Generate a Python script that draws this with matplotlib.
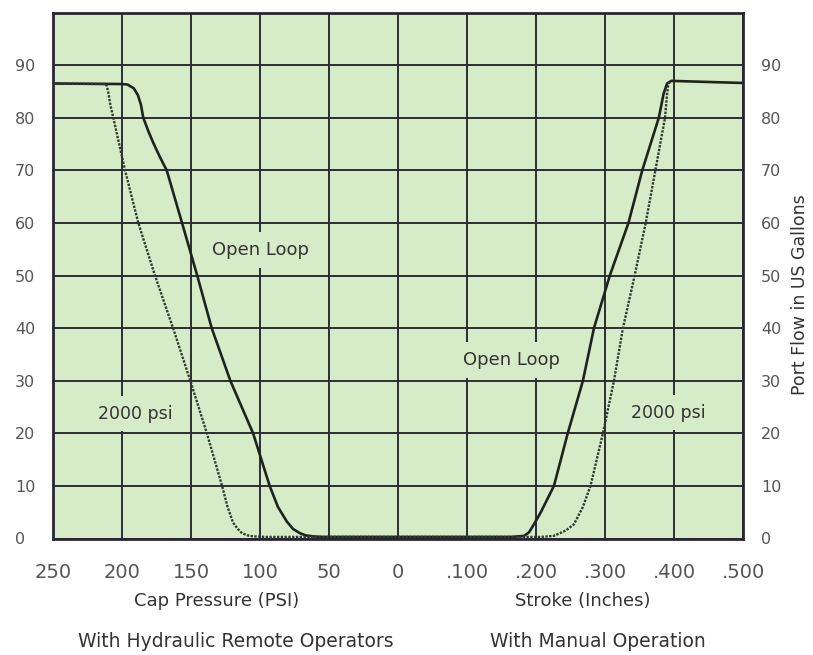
import matplotlib
matplotlib.use("Agg")
import matplotlib.pyplot as plt
import numpy as np

# ---------------- data ----------------
x_tick_labels = ['250', '200', '150', '100', '50', '0', '.100', '.200', '.300', '.400', '.500']
y_ticks = [0, 10, 20, 30, 40, 50, 60, 70, 80, 90]

# Left half: Cap pressure (PSI) vs port flow (US gallons)
open_loop_psi = [250, 200, 196, 191.5, 188.5, 186.3, 184.6, 181, 177.3, 172.5, 167.6, 156.5, 145.5,
                 135, 121.5, 105, 93, 87, 80.5, 76, 71, 67, 61.5, 55, 0]
open_loop_psi_flow = [86.5, 86.4, 86.3, 85.6, 84.3, 82.5, 80, 77.5, 75.2, 72.5, 70, 60, 50,
                      40, 30, 20, 10, 6, 3.2, 1.8, 1.0, 0.6, 0.4, 0.3, 0.3]

p2000_psi = [250, 212, 211, 210, 208.5, 206.3, 197.8, 188.2, 176.1, 163, 150.5, 138.5, 127.5,
             123.5, 119.5, 116, 113, 109, 105, 95, 0]
p2000_psi_flow = [86.5, 86.4, 86, 84.9, 82.5, 80, 70, 60, 50, 40, 30, 20, 10,
                  6, 3, 1.8, 1.0, 0.6, 0.4, 0.3, 0.3]

# Right half: Stroke (inches) vs port flow (US gallons)
open_loop_stroke = [0.0, 0.164, 0.183, 0.190, 0.197, 0.207, 0.226, 0.246, 0.268, 0.284, 0.307,
                    0.334, 0.354, 0.378, 0.385, 0.390, 0.396, 0.5]
open_loop_stroke_flow = [0.3, 0.3, 0.5, 1.2, 2.7, 5, 10, 20, 30, 40, 50,
                         60, 70, 80, 84.6, 86.5, 87, 86.6]

p2000_stroke = [0.0, 0.207, 0.226, 0.243, 0.255, 0.268, 0.279, 0.297, 0.313, 0.326, 0.343,
                0.359, 0.373, 0.387, 0.390, 0.392, 0.396]
p2000_stroke_flow = [0.3, 0.3, 0.5, 1.5, 2.7, 6, 10, 20, 30, 40, 50,
                     60, 70, 80, 84.6, 86.5, 87]

# ---------------- helpers ----------------
def psi_pos(p):
    return (250 - np.asarray(p, dtype=float)) / 50.0

def stroke_pos(s):
    return 5 + np.asarray(s, dtype=float) * 10.0

BG = '#d6ecc8'
GRID = '#2b2d33'
TXT = '#333333'
TICK = '#555555'

plt.rcParams['font.family'] = ['DejaVu Sans']

W, H = 813, 655
fig = plt.figure(figsize=(W / 100, H / 100), dpi=100)
fig.patch.set_facecolor('white')
ax = fig.add_axes([53 / W, 1 - 538.5 / H, 690 / W, 526 / H])
ax.set_facecolor(BG)

ax.set_xlim(0, 10)
ax.set_ylim(0, 100)
ax.set_xticks(range(len(x_tick_labels)))
ax.set_xticklabels(x_tick_labels)
ax.set_yticks(y_ticks)
ax.set_yticklabels([str(v) for v in y_ticks])

ax.set_axisbelow(True)
ax.grid(True, color=GRID, linewidth=1.4)

ax.tick_params(axis='both', length=0, colors=TICK)
ax.tick_params(axis='x', pad=17.5, labelsize=14)
ax.tick_params(axis='y', labelsize=11.5, pad=27.4)
for t in ax.yaxis.get_major_ticks():
    t.label1.set_horizontalalignment('left')

# right-hand labels on a twin axis
axr = ax.twinx()
axr.set_ylim(0, 100)
axr.set_yticks(y_ticks)
axr.set_yticklabels([str(v) for v in y_ticks])
axr.tick_params(axis='y', length=0, colors=TICK, labelsize=11.5, pad=13)
for s in axr.spines.values():
    s.set_visible(False)

for s in ax.spines.values():
    s.set_color('#2a2633')
    s.set_linewidth(2.0)

# curves
ax.plot(psi_pos(open_loop_psi), open_loop_psi_flow, color='#1d241d', lw=1.9, zorder=5,
        solid_capstyle='round', solid_joinstyle='round')
ax.plot(psi_pos(p2000_psi), p2000_psi_flow, color='#2e3a2e', lw=1.7, ls=(0, (1, 0.6)), zorder=5)
ax.plot(stroke_pos(open_loop_stroke), open_loop_stroke_flow, color='#1d241d', lw=1.9, zorder=5,
        solid_capstyle='round', solid_joinstyle='round')
ax.plot(stroke_pos(p2000_stroke), p2000_stroke_flow, color='#2e3a2e', lw=1.7, ls=(0, (1, 0.6)), zorder=5)

bbox = dict(boxstyle='square,pad=0.5', fc=BG, ec='none')
ax.text(3.01, 53.9, 'Open Loop', fontsize=13, color=TXT, ha='center', va='baseline', bbox=bbox, zorder=3)
ax.text(6.64, 33.0, 'Open Loop', fontsize=13, color=TXT, ha='center', va='baseline', bbox=bbox, zorder=3)
ax.text(1.196, 22.8, '2000 psi', fontsize=12.5, color=TXT, ha='center', va='baseline', bbox=bbox, zorder=3)
ax.text(8.92, 23.0, '2000 psi', fontsize=12.5, color=TXT, ha='center', va='baseline', bbox=bbox, zorder=3)

fig.text(800 / W, 1 - 295 / H, 'Port Flow in US Gallons', rotation=90, fontsize=12.5,
         color=TXT, ha='center', va='center')

fig.text(217 / W, 1 - 606 / H, 'Cap Pressure (PSI)', fontsize=13, color=TXT, ha='center', va='baseline')
fig.text(583 / W, 1 - 606 / H, 'Stroke (Inches)', fontsize=13, color=TXT, ha='center', va='baseline')
fig.text(236 / W, 1 - 647 / H, 'With Hydraulic Remote Operators', fontsize=13.5, color=TXT,
         ha='center', va='baseline')
fig.text(598 / W, 1 - 647 / H, 'With Manual Operation', fontsize=13.5, color=TXT,
         ha='center', va='baseline')

fig.savefig('out.png', dpi=100, facecolor='white')
